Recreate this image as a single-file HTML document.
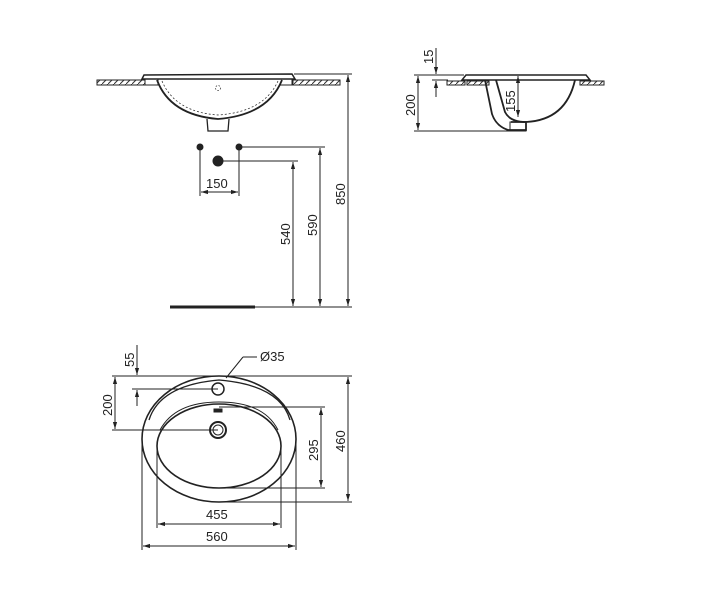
<!DOCTYPE html>
<html><head><style>body{margin:0;background:#fff}svg{display:block}text{font-family:"Liberation Sans",sans-serif;font-size:13px;fill:#222}</style></head>
<body>
<svg width="710" height="600" viewBox="0 0 710 600" xmlns="http://www.w3.org/2000/svg">
<defs>
<marker id="a" viewBox="0 0 10 10" refX="10" refY="5" markerWidth="7" markerHeight="7" orient="auto-start-reverse"><path d="M0,2 L10,5 L0,8z" fill="#222"/></marker>
<pattern id="h" width="6" height="6" patternUnits="userSpaceOnUse"><rect width="6" height="6" fill="#fff"/><path d="M0,6 L6,0" stroke="#333" stroke-width="1"/></pattern>
</defs>
<g stroke="#222" fill="none" stroke-width="1">
<!-- front elevation -->
<rect x="97" y="80" width="48" height="5" fill="url(#h)"/>
<rect x="292" y="80" width="48" height="5" fill="url(#h)"/>
<path d="M142,79 L144,75 L292,74 L295,79 Z" stroke-width="1.5"/>
<path d="M145,79 L158,79 L158,85 L145,85" />
<path d="M280,79 L293,79 L293,85 L280,85" />
<path d="M157,80 Q170,115 218,119 Q268,115 282,80" stroke-width="1.8"/>
<path d="M162,81 Q175,112 218,115 Q264,112 278,81" stroke-dasharray="2,2" stroke-width="0.7"/>
<path d="M207,119 L208,131 L228,131 L229,119" stroke-width="1.3"/>
<circle cx="218" cy="88" r="2.5" stroke-dasharray="1.5,1.5" stroke-width="0.7"/>
<circle cx="200" cy="147" r="3" fill="#222"/>
<circle cx="239" cy="147" r="3" fill="#222"/>
<circle cx="218" cy="161" r="5" fill="#222"/>
<line x1="200" y1="147" x2="200" y2="196"/>
<line x1="239" y1="147" x2="239" y2="196"/>
<line x1="201" y1="192" x2="238" y2="192" marker-start="url(#a)" marker-end="url(#a)"/>
<line x1="239" y1="147" x2="325" y2="147"/>
<line x1="218" y1="161" x2="298" y2="161"/>
<line x1="294" y1="74" x2="352" y2="74"/>
<line x1="170" y1="307" x2="255" y2="307" stroke-width="3"/>
<line x1="255" y1="307" x2="352" y2="307"/>
<line x1="293" y1="162" x2="293" y2="306" marker-start="url(#a)" marker-end="url(#a)"/>
<line x1="320" y1="148" x2="320" y2="306" marker-start="url(#a)" marker-end="url(#a)"/>
<line x1="348" y1="75" x2="348" y2="306" marker-start="url(#a)" marker-end="url(#a)"/>
<!-- side elevation -->
<rect x="447" y="81" width="18" height="4" fill="url(#h)"/>
<rect x="467" y="81" width="22" height="4" fill="url(#h)"/>
<rect x="580" y="81" width="24" height="4" fill="url(#h)"/>
<path d="M462,80 L466,75 L586,75 L590,80 Z" stroke-width="1.5"/>
<path d="M485,80 L492,114 Q496,126 508,130 L526,130 L526,122 Q510,122 505,112 L496,80" stroke-width="1.8"/>
<path d="M511,122 L526,122 Q566,120 575,80" stroke-width="1.8"/>
<rect x="510" y="122" width="16" height="9"/>
<line x1="436" y1="48" x2="436" y2="74" marker-end="url(#a)"/>
<line x1="436" y1="97" x2="436" y2="81" marker-end="url(#a)"/>
<line x1="432" y1="80" x2="448" y2="80"/>
<line x1="414" y1="75" x2="464" y2="75"/>
<line x1="414" y1="131" x2="510" y2="131"/>
<line x1="418" y1="76" x2="418" y2="130" marker-start="url(#a)" marker-end="url(#a)"/>
<line x1="518" y1="76" x2="518" y2="117" marker-start="url(#a)" marker-end="url(#a)"/>
<!-- plan -->
<ellipse cx="219" cy="439" rx="77" ry="63" stroke-width="1.6"/>
<path d="M149,420 Q160,385 219,380 Q280,385 290,420" stroke-width="1.3"/>
<ellipse cx="219" cy="446" rx="62" ry="42" stroke-width="1.6"/>
<path d="M160,430 Q175,402 219,402 Q264,402 278,430" stroke-width="1"/>
<circle cx="218" cy="389" r="6" stroke-width="1.5"/>
<circle cx="218" cy="430" r="8" stroke-width="2"/>
<circle cx="218" cy="430" r="5"/>
<rect x="214" y="409" width="8" height="3" fill="#222"/>
<line x1="243" y1="357" x2="257" y2="357"/>
<line x1="243" y1="357" x2="226" y2="378"/>
<line x1="112" y1="376" x2="352" y2="376"/>
<line x1="132" y1="389" x2="218" y2="389"/>
<line x1="112" y1="430" x2="218" y2="430"/>
<line x1="219" y1="407" x2="325" y2="407"/>
<line x1="219" y1="488" x2="325" y2="488"/>
<line x1="219" y1="502" x2="352" y2="502"/>
<line x1="137" y1="345" x2="137" y2="375" marker-end="url(#a)"/>
<line x1="137" y1="406" x2="137" y2="390" marker-end="url(#a)"/>
<line x1="115" y1="377" x2="115" y2="429" marker-start="url(#a)" marker-end="url(#a)"/>
<line x1="321" y1="408" x2="321" y2="487" marker-start="url(#a)" marker-end="url(#a)"/>
<line x1="348" y1="377" x2="348" y2="501" marker-start="url(#a)" marker-end="url(#a)"/>
<line x1="157" y1="446" x2="157" y2="528"/>
<line x1="281" y1="446" x2="281" y2="528"/>
<line x1="142" y1="439" x2="142" y2="550"/>
<line x1="296" y1="439" x2="296" y2="550"/>
<line x1="158" y1="524" x2="280" y2="524" marker-start="url(#a)" marker-end="url(#a)"/>
<line x1="143" y1="546" x2="295" y2="546" marker-start="url(#a)" marker-end="url(#a)"/>
</g>
<text x="206" y="188">150</text>
<text transform="translate(290,245) rotate(-90)">540</text>
<text transform="translate(317,236) rotate(-90)">590</text>
<text transform="translate(345,205) rotate(-90)">850</text>
<text transform="translate(433,64) rotate(-90)">15</text>
<text transform="translate(415,116) rotate(-90)">200</text>
<text transform="translate(515,112) rotate(-90)">155</text>
<text x="260" y="361">Ø35</text>
<text transform="translate(134,367) rotate(-90)">55</text>
<text transform="translate(112,416) rotate(-90)">200</text>
<text transform="translate(318,461) rotate(-90)">295</text>
<text transform="translate(345,452) rotate(-90)">460</text>
<text x="206" y="519">455</text>
<text x="206" y="541">560</text>
</svg>
</body></html>
